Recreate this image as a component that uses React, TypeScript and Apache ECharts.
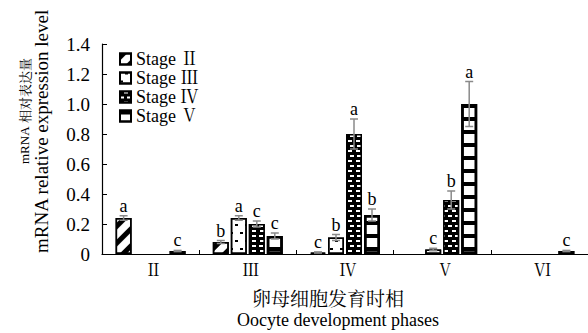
import React, { useEffect, useRef } from "react";
import * as echarts from "echarts";

const categories = ["Ⅱ", "Ⅲ", "Ⅳ", "Ⅴ", "Ⅵ"];
const stageNames = ["Stage Ⅱ", "Stage Ⅲ", "Stage Ⅳ", "Stage Ⅴ"];
const yTicks = [0, 0.2, 0.4, 0.6, 0.8, 1.0, 1.2, 1.4];

const stage2 = [0.24, 0.08, 0.01, null, null];
const stage3 = [null, 0.24, 0.11, 0.03, null];
const stage4 = [null, 0.2, 0.8, 0.36, null];
const stage5 = [0.02, 0.12, 0.26, 1.0, 0.02];

const err2 = [0.015, 0.01, 0.004, null, null];
const err3 = [null, 0.015, 0.02, 0.008, null];
const err4 = [null, 0.02, 0.1, 0.06, null];
const err5 = [0.004, 0.02, 0.04, 0.15, 0.004];

const sig2 = ["a", "b", "c", null, null];
const sig3 = [null, "a", "b", "c", null];
const sig4 = [null, "c", "a", "b", null];
const sig5 = ["c", "c", "b", "a", "c"];

const SERIF = "Liberation Serif, Noto Serif CJK SC, Noto Sans CJK SC, serif";

export default function App() {
  const ref = useRef<HTMLDivElement>(null);
  useEffect(() => {
    if (!ref.current) return;
    const chart = echarts.init(ref.current, null, { renderer: "svg" });
    const values = [stage2, stage3, stage4, stage5];
    const errs = [err2, err3, err4, err5];
    const sigs = [sig2, sig3, sig4, sig5];
    const barW = 16;
    const gap = 2;
    const offsets = [0, 1, 2, 3].map((i) => -((4 * barW + 3 * gap) / 2) + i * (barW + gap) + barW / 2);

    const decals: any[] = [
      { symbol: "rect", color: "#000", dashArrayX: [1, 0], dashArrayY: [5, 7], rotation: -Math.PI / 4 },
      { symbol: "rect", color: "#000", dashArrayX: [[3, 7], [0, 5, 3, 2]], dashArrayY: [2, 6] },
      { symbol: "rect", color: "#fff", dashArrayX: [[4, 3], [0, 3.5, 4, 0]], dashArrayY: [2, 3] },
      { symbol: "rect", color: "#000", dashArrayX: [1, 0], dashArrayY: [3.5, 8.5] },
    ];
    const baseColors = ["#fff", "#fff", "#000", "#fff"];

    const barSeries = values.map((v, i) => ({
      name: stageNames[i],
      type: "bar",
      data: v.map((x) => (x == null ? "-" : x)),
      barWidth: barW,
      barGap: "12.5%",
      itemStyle: {
        color: baseColors[i],
        borderColor: "#000",
        borderWidth: i === 3 ? 2.5 : 1.5,
        decal: decals[i],
      },
      z: 2,
    }));

    const errSeries = values.map((v, i) => {
      const rows = v
        .map((x, k) => (x == null ? null : { value: [k, x, errs[i][k]], sig: sigs[i][k] || "" }))
        .filter((d) => d != null) as any[];
      return {
        name: "err" + i,
        type: "custom",
        z: 5,
        data: rows.map((r) => r.value),
        encode: { x: 0, y: 1 },
        renderItem: (params: any, api: any) => {
          const idx = api.value(0);
          const val = api.value(1);
          const e = api.value(2);
          const letter = rows[params.dataIndex].sig;
          const cx = api.coord([idx, 0])[0] + offsets[i];
          const top = api.coord([idx, val + e])[1];
          const bot = api.coord([idx, Math.max(0, val - e)])[1];
          const line = { stroke: "#8a8a8a", lineWidth: 1.5 };
          return {
            type: "group",
            children: [
              { type: "line", shape: { x1: cx, y1: top, x2: cx, y2: bot }, style: line },
              { type: "line", shape: { x1: cx - 4, y1: top, x2: cx + 4, y2: top }, style: line },
              { type: "line", shape: { x1: cx - 4, y1: bot, x2: cx + 4, y2: bot }, style: line },
              {
                type: "text",
                x: cx,
                y: top - 1,
                style: {
                  text: letter,
                  fill: "#000",
                  fontSize: 18,
                  fontFamily: SERIF,
                  align: "center",
                  verticalAlign: "bottom",
                },
              },
            ],
          };
        },
      };
    });

    chart.setOption({
      animation: false,
      grid: { left: 102, right: 0, top: 44, bottom: 79, containLabel: false },
      legend: {
        data: stageNames,
        orient: "vertical",
        left: 114,
        top: 45,
        itemWidth: 11,
        itemHeight: 11,
        itemGap: 1,
        icon: "rect",
        textStyle: { fontFamily: SERIF, fontSize: 18, color: "#000" },
      },
      xAxis: {
        type: "category",
        data: categories,
        axisLine: { lineStyle: { color: "#000", width: 1.2 } },
        axisTick: { show: true, inside: true, length: 4, lineStyle: { color: "#000" } },
        axisLabel: { color: "#000", fontFamily: SERIF, fontSize: 17, margin: 8, padding: [0, 0, 0, 6] },
      },
      yAxis: {
        type: "value",
        min: 0,
        max: 1.4,
        interval: 0.2,
        splitLine: { show: false },
        axisLine: { show: true, lineStyle: { color: "#000", width: 1.2 } },
        axisTick: { show: true, inside: true, length: 5, lineStyle: { color: "#000" } },
        axisLabel: {
          color: "#000",
          fontFamily: SERIF,
          fontSize: 19,
          margin: 12,
          formatter: (v: number) => {
            const t = yTicks.find((x) => Math.abs(x - v) < 1e-6);
            return t === 0 ? "0" : (t ?? v).toFixed(1);
          },
        },
      },
      graphic: [
        {
          type: "text",
          x: 24,
          y: 164,
          rotation: Math.PI / 2,
          style: {
            text: "mRNA",
            fontSize: 13,
            fontFamily: "Liberation Serif",
            fill: "#000",
            align: "left",
            verticalAlign: "middle",
          },
        },
        {
          type: "text",
          x: 24,
          y: 123,
          rotation: Math.PI / 2,
          style: {
            text: "相对表达量",
            fontSize: 13,
            fontFamily: "Noto Serif CJK SC, Noto Sans CJK SC",
            fill: "#000",
            align: "left",
            verticalAlign: "middle",
          },
        },
        {
          type: "text",
          x: 41,
          y: 253,
          rotation: Math.PI / 2,
          style: {
            text: "mRNA relative expression level",
            fontSize: 19,
            fontFamily: SERIF,
            fill: "#000",
            align: "left",
            verticalAlign: "middle",
          },
        },
        {
          type: "text",
          x: 328,
          y: 297,
          style: {
            text: "卵母细胞发育时相",
            fontSize: 19,
            fontFamily: "Noto Serif CJK SC, Noto Sans CJK SC, sans-serif",
            fill: "#000",
            align: "center",
            verticalAlign: "middle",
          },
        },
        {
          type: "text",
          x: 338,
          y: 320,
          style: {
            text: "Oocyte development phases",
            fontSize: 18,
            fontFamily: SERIF,
            fill: "#000",
            align: "center",
            verticalAlign: "middle",
          },
        },
      ],
      series: [...barSeries, ...errSeries],
    });
    return () => chart.dispose();
  }, []);
  return <div ref={ref} style={{ width: 588, height: 333, position: "absolute", left: 0, top: 0, background: "#fff" }} />;
}
